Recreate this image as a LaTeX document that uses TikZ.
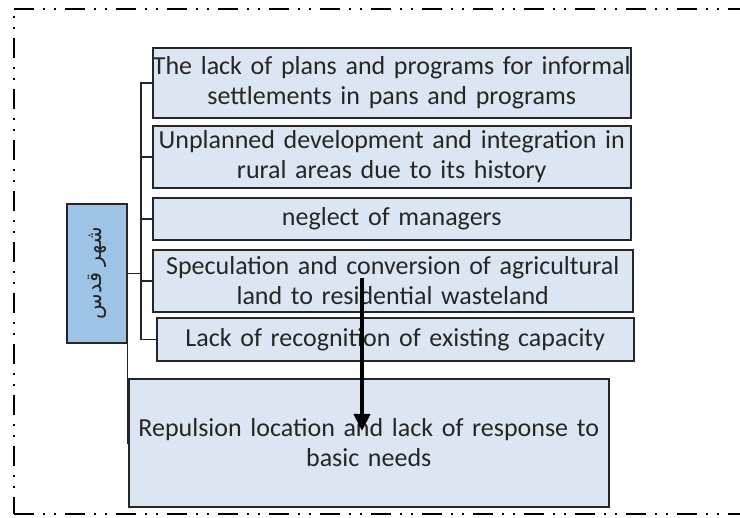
\documentclass[tikz,border=0pt]{standalone}
\usepackage{fontspec}
\setmainfont{Carlito}
\newfontfamily\arabicfont[Script=Arabic]{DejaVu Sans}
\TeXXeTstate=1
\usetikzlibrary{arrows.meta}
\definecolor{boxblue}{RGB}{220,230,242}
\definecolor{cityblue}{RGB}{157,195,230}
\definecolor{txtgray}{RGB}{38,38,38}
\tikzstyle{frame}=[line width=2pt,dash pattern=on 20pt off 9pt on 2pt off 9pt on 2pt off 9pt]
\tikzstyle{cause}=[draw=black!85,line width=1.5pt,fill=boxblue,anchor=west,inner sep=0pt,
  text width=478pt,align=center,text=txtgray,font=\fontsize{26}{30}\selectfont]
\tikzstyle{city}=[draw=black!85,line width=1.5pt,fill=cityblue,inner sep=0pt,
  minimum width=60pt,minimum height=139pt]
\tikzstyle{conn}=[line width=1.2pt,black!85]
\tikzstyle{bigarrow}=[line width=4pt,-{Triangle[width=16pt,length=17pt]}]

\begin{document}
\begin{tikzpicture}[x=1pt,y=-1pt]
  \useasboundingbox (0,0) rectangle (740,518);
  % outer frame, open on the right
  \draw[frame] (14,9) -- (760,9);
  \draw[frame,dash phase=22pt] (14,9) -- (14,514);
  \draw[frame] (14,514) -- (760,514);

  % causes
  \node[cause,minimum height=70pt] (plans) at (152,83)
    {The lack of plans and programs for informal\\settlements in pans and programs};
  \node[cause,minimum height=62pt] (unplanned) at (152,157)
    {Unplanned development and integration in\\rural areas due to its history};
  \node[cause,minimum height=42pt] (neglect) at (152,219) {neglect of managers};
  \node[cause,minimum height=62pt,text width=480pt] (spec) at (152,281)
    {Speculation and conversion of agricultural\\land to residential wasteland};
  \node[cause,minimum height=43pt,text width=477pt] (recog) at (156,339.5)
    {Lack of recognition of existing capacity};
  \node[cause,minimum height=128pt,text width=480pt] (repul) at (128,443)
    {Repulsion location and lack of response to\\basic needs};

  % city
  \node[city] (qods) at (97,273.5)
    {\rotatebox{90}{\arabicfont\fontsize{21}{24}\selectfont\color{txtgray}\beginR شهر قدس\endR}};

  % connectors
  \coordinate (trunk) at (141,0);
  \draw[conn] (plans.west) -| (trunk |- recog.west) -- (recog.west);
  \foreach \n in {unplanned,neglect,spec}
    \draw[conn] (\n.west) -- (\n.west -| trunk);
  \draw[conn] (qods.east) -- (qods.east -| trunk);
  \draw[conn] (qods.east) |- (repul.west);

  % arrow
  \coordinate (arrtop) at (362,278);
  \coordinate (arrtip) at (362,431);
  \draw[bigarrow] (arrtop) -- (arrtip);
\end{tikzpicture}
\end{document}
